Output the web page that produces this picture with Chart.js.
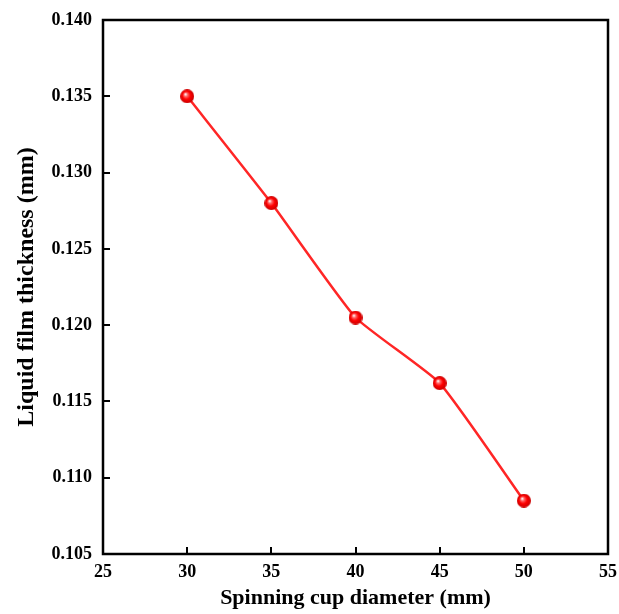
<!DOCTYPE html>
<html>
<head>
<meta charset="utf-8">
<script src="https://cdn.jsdelivr.net/npm/chart.js@4/dist/chart.umd.min.js"></script>
<style>
  html, body { margin: 0; padding: 0; background: #fff; }
  #wrap { width: 619px; height: 614px; }
</style>
</head>
<body>
<div id="wrap"><canvas id="chart"></canvas></div>
<script>
// spinning cup diameter (mm) vs liquid film thickness (mm)
const diameters = [30, 35, 40, 45, 50];
const thickness = [0.1350, 0.1280, 0.1205, 0.1162, 0.1085];
const xTicks = [25, 30, 35, 40, 45, 50, 55];
const yTicks = [0.105, 0.110, 0.115, 0.120, 0.125, 0.130, 0.135, 0.140];

const FONT = "'Liberation Serif', 'Times New Roman', serif";

// shiny red ball used as marker
function sphere(r) {
  const c = document.createElement('canvas');
  c.width = c.height = r * 2;
  const g = c.getContext('2d');
  const grad = g.createRadialGradient(r * 0.75, r * 0.7, r * 0.05, r, r, r);
  grad.addColorStop(0, '#ffffff');
  grad.addColorStop(0.22, '#ff6a6a');
  grad.addColorStop(0.55, '#ff0000');
  grad.addColorStop(1, '#c80000');
  g.fillStyle = grad;
  g.beginPath();
  g.arc(r, r, r, 0, Math.PI * 2);
  g.fill();
  return c;
}

// box frame + inward ticks
const frame = {
  id: 'frame',
  beforeDatasetsDraw(chart) {
    const { ctx, chartArea: a, scales } = chart;
    ctx.save();
    ctx.strokeStyle = '#000';
    ctx.lineWidth = 2;
    xTicks.forEach(v => {
      const x = Math.round(scales.x.getPixelForValue(v));
      ctx.beginPath(); ctx.moveTo(x, a.bottom); ctx.lineTo(x, a.bottom - 7); ctx.stroke();
    });
    yTicks.forEach(v => {
      const y = Math.round(scales.y.getPixelForValue(v));
      ctx.beginPath(); ctx.moveTo(a.left, y); ctx.lineTo(a.left + 7, y); ctx.stroke();
    });
    ctx.lineWidth = 2.5;
    ctx.strokeRect(a.left, a.top, a.right - a.left, a.bottom - a.top);
    ctx.restore();
  }
};

new Chart(document.getElementById('chart'), {
  type: 'line',
  data: {
    datasets: [{
      data: diameters.map((d, i) => ({ x: d, y: thickness[i] })),
      borderColor: '#ff2626',
      borderWidth: 2.5,
      tension: 0.15,
      pointStyle: sphere(7),
      pointRadius: 7,
    }]
  },
  options: {
    responsive: true,
    maintainAspectRatio: false,
    animation: false,
    layout: { padding: { top: 20, right: 11, bottom: 0, left: 0 } },
    plugins: { legend: { display: false }, tooltip: { enabled: false } },
    scales: {
      x: {
        type: 'linear',
        min: 25, max: 55,
        afterBuildTicks: s => { s.ticks = xTicks.map(v => ({ value: v })); },
        afterFit: s => { s.height = 60; s.paddingLeft = 0; s.paddingRight = 0; },
        grid: { display: false, drawTicks: false },
        border: { display: false },
        ticks: { color: '#000', padding: 8, font: { family: FONT, size: 18, weight: 'bold' } },
        title: {
          display: true, text: 'Spinning cup diameter (mm)', color: '#000',
          padding: { top: 0, bottom: 2 },
          font: { family: FONT, size: 22, weight: 'bold' }
        }
      },
      y: {
        min: 0.105, max: 0.140,
        afterBuildTicks: s => { s.ticks = yTicks.map(v => ({ value: v })); },
        afterFit: s => { s.width = 103; s.paddingTop = 0; s.paddingBottom = 0; },
        grid: { display: false, drawTicks: false },
        border: { display: false },
        ticks: {
          color: '#000', padding: 11,
          font: { family: FONT, size: 18, weight: 'bold' },
          callback: v => v.toFixed(3)
        },
        title: {
          display: true, text: 'Liquid film thickness (mm)', color: '#000',
          padding: { top: 12, bottom: 2 },
          font: { family: FONT, size: 24, weight: 'bold' }
        }
      }
    }
  },
  plugins: [frame]
});
</script>
</body>
</html>
